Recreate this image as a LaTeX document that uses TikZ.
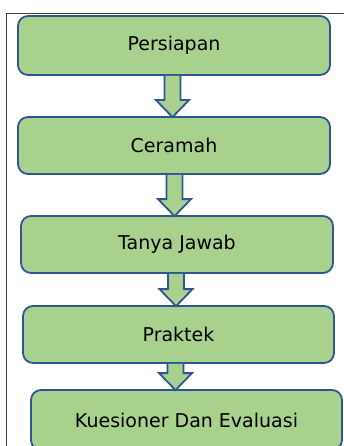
\documentclass[tikz,border=0pt]{standalone}
\usepackage{fontspec}
\setmainfont{DejaVu Sans}
\usetikzlibrary{calc}
\definecolor{boxfill}{HTML}{A9D18E}
\definecolor{boxline}{HTML}{2F5597}
\definecolor{framecol}{HTML}{404040}
\tikzset{
  stepbox/.style={draw=boxline, fill=boxfill, line width=1.8pt, rounded corners=10pt,
    minimum width=#1, inner sep=0pt, font=\fontsize{19}{23}\selectfont, text=black},
  blockarrow/.style={draw=boxline, fill=boxfill, line width=1.8pt, line join=miter}
}
\newcommand\blkarrow[3]{%
  \draw[blockarrow] let \p1=(#1.south), \p2=(#2.north) in
    (#3pt-8pt,\y1) -- (#3pt-8pt,\y2+16pt) -- (#3pt-16.5pt,\y2+16pt) -- (#3pt,\y2-1pt)
    -- (#3pt+16.5pt,\y2+16pt) -- (#3pt+8pt,\y2+16pt) -- (#3pt+8pt,\y1);
}
\begin{document}
\begin{tikzpicture}[x=1pt,y=1pt]
\useasboundingbox (0,0) rectangle (344,-446);
\clip (0,0) rectangle (344,-446);
\draw[framecol, line width=1pt] (344,-14) -- (6.5,-14) -- (6.5,-446);
\node[stepbox=312pt, minimum height=59pt] (n1) at (174,-45.5) {Persiapan};
\node[stepbox=312pt, minimum height=57pt] (n2) at (174,-145.5) {Ceramah};
\node[stepbox=312pt, minimum height=57pt] (n3) at (177,-244.5) {Tanya Jawab};
\node[stepbox=311pt, minimum height=57pt] (n4) at (178.5,-334.5) {Praktek};
\node[stepbox=311pt, minimum height=60pt] (n5) at (186.5,-420) {Kuesioner Dan Evaluasi};
\blkarrow{n1}{n2}{172.5}
\blkarrow{n2}{n3}{174.5}
\blkarrow{n3}{n4}{176}
\blkarrow{n4}{n5}{175.5}
\end{tikzpicture}
\end{document}
